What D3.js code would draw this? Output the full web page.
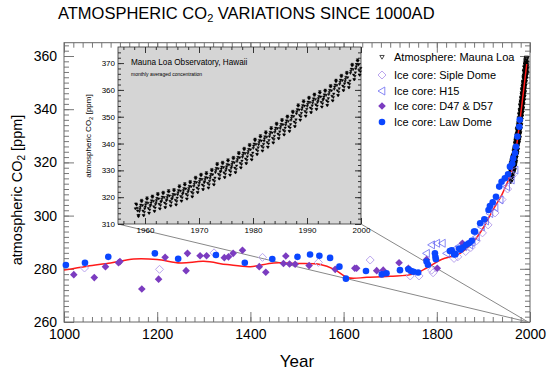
<!DOCTYPE html>
<html>
<head>
<meta charset="utf-8">
<script src="https://cdn.jsdelivr.net/npm/d3@7"></script>
<style>
  body { margin: 0; background: #fff; }
  svg text { font-family: "Liberation Sans", Arial, Helvetica, sans-serif; fill: #000; }
</style>
</head>
<body>
<svg id="chart" width="550" height="376"></svg>
<script>
// Ice core records, [year, ppm]
var lawDome = [
  [1004, 281.4], [1045, 282.3], [1095, 284.5], [1195, 285.8], [1245, 283.8], [1326, 285.2],
  [1388, 282.3], [1447, 283.7], [1501, 284.5], [1528, 285.4], [1548, 284.9], [1571, 284.1],
  [1591, 280.8], [1605, 276.3], [1648, 279.2], [1682, 277.9], [1692, 278.3], [1721, 279.5],
  [1739, 279.8], [1745, 279.2], [1750, 278.9], [1760, 278.6], [1778, 282.7], [1781, 281.5],
  [1796, 285.8], [1797, 284.5], [1798, 283.6], [1828, 286.7], [1832, 287.0], [1837, 285.4],
  [1840, 285.5], [1848, 287.6], [1851, 287.2], [1856, 288.0], [1863, 289.0], [1869, 289.6],
  [1875, 290.5], [1880, 294.0], [1882, 294.0], [1893, 297.1], [1902, 298.6], [1911, 302.1],
  [1914, 303.6], [1920, 305.0], [1927, 307.1], [1934, 310.9], [1939, 312.7], [1946, 314.0],
  [1953, 315.5], [1957, 318.4], [1962, 319.5], [1964, 321.5], [1968, 323.5], [1970, 325.9],
  [1973, 329.7], [1977, 333.4], [1978, 336.0]
];
var d47d57 = [
  [1021, 277.8], [1065, 276.7], [1089, 280.8], [1117, 282.3], [1120, 282.7], [1167, 272.4],
  [1203, 276.1], [1217, 284.3], [1262, 279.3], [1265, 285.8], [1292, 284.9], [1306, 284.9],
  [1344, 284.2], [1353, 284.5], [1363, 285.8], [1383, 287.0], [1419, 280.8], [1433, 278.7],
  [1471, 282.0], [1476, 284.8], [1484, 281.8], [1496, 281.7], [1526, 281.2], [1582, 279.8],
  [1624, 280.2], [1628, 280.2], [1671, 279.3], [1685, 279.5], [1719, 282.3], [1739, 280.2],
  [1778, 283.5], [1801, 280.2], [1855, 289.6]
];
var sipleDome = [
  [1044, 280.3], [1205, 279.8], [1322, 286.0], [1426, 284.3], [1546, 282.4], [1657, 283.3],
  [1743, 277.3], [1762, 277.3], [1789, 279.5], [1792, 278.5], [1837, 283.9], [1845, 284.5],
  [1862, 286.5], [1873, 288.0], [1885, 290.5], [1898, 293.5], [1910, 296.5], [1925, 301.0],
  [1940, 306.0], [1952, 310.0], [1962, 315.0]
];
var h15 = [
  [1778, 285.8], [1789, 289.0], [1800, 289.6], [1812, 289.6], [1821, 285.8], [1835, 287.0],
  [1848, 288.5], [1858, 288.3], [1871, 289.0], [1876, 290.0], [1885, 292.0], [1896, 295.8],
  [1905, 298.0], [1914, 300.8], [1925, 303.0], [1936, 305.9], [1950, 310.9], [1960, 313.4],
  [1968, 317.1]
];
// smoothed fit through all records
var fitCurve = [
  [1000, 279.5], [1050, 281.0], [1100, 282.2], [1150, 283.7], [1200, 283.5], [1250, 282.2],
  [1300, 282.8], [1350, 281.6], [1400, 280.8], [1450, 282.2], [1500, 282.0], [1550, 281.6],
  [1580, 279.8], [1610, 276.6], [1650, 276.8], [1700, 277.2], [1750, 278.0], [1780, 280.5],
  [1810, 283.5], [1850, 285.8], [1880, 290.5], [1900, 295.5], [1920, 302.0], [1940, 308.0],
  [1960, 316.5], [1970, 325.0], [1980, 338.0], [1993, 357.0]
];
// Mauna Loa monthly means: year, Jan..Dec
var maunaLoa = [
  [1958, null, null, 315.7, 317.5, 317.5, 317.1, 315.9, 314.9, 313.2, 312.7, 313.3, 314.7],
  [1959, 315.5, 316.3, 317.1, 318.4, 318.9, 318.4, 316.9, 314.9, 313.2, 313.1, 314.4, 315.7],
  [1960, 316.4, 317.2, 318.0, 319.3, 319.8, 319.3, 317.8, 315.8, 314.1, 314.0, 315.3, 316.6],
  [1961, 317.1, 317.9, 318.7, 320.0, 320.5, 320.0, 318.5, 316.5, 314.8, 314.7, 316.0, 317.3],
  [1962, 318.0, 318.8, 319.6, 320.9, 321.4, 320.9, 319.4, 317.4, 315.7, 315.6, 316.9, 318.2],
  [1963, 318.5, 319.3, 320.1, 321.4, 321.9, 321.4, 319.9, 317.9, 316.2, 316.1, 317.4, 318.7],
  [1964, 319.1, 319.9, 320.7, 322.0, 322.5, 322.0, 320.5, 318.5, 316.8, 316.7, 318.0, 319.3],
  [1965, 319.5, 320.3, 321.1, 322.4, 322.9, 322.4, 320.9, 318.9, 317.2, 317.1, 318.4, 319.7],
  [1966, 320.9, 321.7, 322.5, 323.8, 324.3, 323.8, 322.3, 320.3, 318.6, 318.5, 319.8, 321.1],
  [1967, 321.7, 322.5, 323.3, 324.6, 325.1, 324.6, 323.1, 321.1, 319.4, 319.3, 320.6, 321.9],
  [1968, 322.5, 323.3, 324.1, 325.4, 325.9, 325.4, 323.9, 321.9, 320.2, 320.1, 321.4, 322.7],
  [1969, 324.1, 324.9, 325.7, 327.0, 327.5, 327.0, 325.5, 323.5, 321.8, 321.7, 323.0, 324.3],
  [1970, 325.2, 326.0, 326.8, 328.1, 328.6, 328.1, 326.6, 324.6, 322.9, 322.8, 324.1, 325.4],
  [1971, 325.8, 326.6, 327.4, 328.7, 329.2, 328.7, 327.2, 325.2, 323.5, 323.4, 324.7, 326.0],
  [1972, 327.0, 327.8, 328.6, 329.9, 330.4, 329.9, 328.4, 326.4, 324.7, 324.6, 325.9, 327.2],
  [1973, 329.2, 330.0, 330.8, 332.1, 332.6, 332.1, 330.6, 328.6, 326.9, 326.8, 328.1, 329.4],
  [1974, 329.7, 330.5, 331.3, 332.6, 333.1, 332.6, 331.1, 329.1, 327.4, 327.3, 328.6, 329.9],
  [1975, 330.6, 331.4, 332.2, 333.5, 334.0, 333.5, 332.0, 330.0, 328.3, 328.2, 329.5, 330.8],
  [1976, 331.5, 332.3, 333.1, 334.4, 334.9, 334.4, 332.9, 330.9, 329.2, 329.1, 330.4, 331.7],
  [1977, 333.3, 334.1, 334.9, 336.2, 336.7, 336.2, 334.7, 332.7, 331.0, 330.9, 332.2, 333.5],
  [1978, 334.9, 335.7, 336.5, 337.8, 338.3, 337.8, 336.3, 334.3, 332.6, 332.5, 333.8, 335.1],
  [1979, 336.3, 337.1, 337.9, 339.2, 339.7, 339.2, 337.7, 335.7, 334.0, 333.9, 335.2, 336.5],
  [1980, 338.3, 339.1, 339.9, 341.2, 341.7, 341.2, 339.7, 337.7, 336.0, 335.9, 337.2, 338.5],
  [1981, 339.6, 340.4, 341.2, 342.5, 343.0, 342.5, 341.0, 339.0, 337.3, 337.2, 338.5, 339.8],
  [1982, 341.0, 341.8, 342.6, 343.9, 344.4, 343.9, 342.4, 340.4, 338.7, 338.6, 339.9, 341.2],
  [1983, 342.6, 343.4, 344.2, 345.5, 346.0, 345.5, 344.0, 342.0, 340.3, 340.2, 341.5, 342.8],
  [1984, 344.2, 345.0, 345.8, 347.1, 347.6, 347.1, 345.6, 343.6, 341.9, 341.8, 343.1, 344.4],
  [1985, 345.6, 346.4, 347.2, 348.5, 349.0, 348.5, 347.0, 345.0, 343.3, 343.2, 344.5, 345.8],
  [1986, 346.9, 347.7, 348.5, 349.8, 350.3, 349.8, 348.3, 346.3, 344.6, 344.5, 345.8, 347.1],
  [1987, 348.7, 349.5, 350.3, 351.6, 352.1, 351.6, 350.1, 348.1, 346.4, 346.3, 347.6, 348.9],
  [1988, 351.1, 351.9, 352.7, 354.0, 354.5, 354.0, 352.5, 350.5, 348.8, 348.7, 350.0, 351.3],
  [1989, 352.6, 353.4, 354.2, 355.5, 356.0, 355.5, 354.0, 352.0, 350.3, 350.2, 351.5, 352.8],
  [1990, 353.9, 354.7, 355.5, 356.8, 357.3, 356.8, 355.3, 353.3, 351.6, 351.5, 352.8, 354.1],
  [1991, 355.1, 355.9, 356.7, 358.0, 358.5, 358.0, 356.5, 354.5, 352.8, 352.7, 354.0, 355.3],
  [1992, 356.0, 356.8, 357.6, 358.9, 359.4, 358.9, 357.4, 355.4, 353.7, 353.6, 354.9, 356.2],
  [1993, 356.6, 357.4, 358.2, 359.5, 360.0, 359.5, 358.0, 356.0, 354.3, 354.2, 355.5, 356.8],
  [1994, 358.3, 359.1, 359.9, 361.2, 361.7, 361.2, 359.7, 357.7, 356.0, 355.9, 357.2, 358.5],
  [1995, 360.3, 361.1, 361.9, 363.2, 363.7, 363.2, 361.7, 359.7, 358.0, 357.9, 359.2, 360.5],
  [1996, 362.1, 362.9, 363.7, 365.0, 365.5, 365.0, 363.5, 361.5, 359.8, 359.7, 361.0, 362.3],
  [1997, 363.2, 364.0, 364.8, 366.1, 366.6, 366.1, 364.6, 362.6, 360.9, 360.8, 362.1, 363.4],
  [1998, 366.2, 367.0, 367.8, 369.1, 369.6, 369.1, 367.6, 365.6, 363.9, 363.8, 365.1, 366.4],
  [1999, 367.9, 368.7, 369.5, 370.8, 371.3, 370.8, 369.3, 367.3, 365.6, 365.5, 366.8, 368.1]
];
var mainLastYear = 1993;   // main panel shows Mauna Loa up to here

var xTicks = d3.range(1000, 2001, 200), xMinor = d3.range(1000, 2001, 20);
var yTicks = d3.range(260, 361, 20), yMinor = d3.range(260, 365, 2);
var insetXTicks = d3.range(1960, 2001, 10), insetXMinor = d3.range(1956, 2001, 2);
var insetYTicks = d3.range(310, 371, 10), insetYMinor = d3.range(310, 376, 2);

var legendItems = [
  {label: "Atmosphere: Mauna Loa", key: "ml"},
  {label: "Ice core: Siple Dome", key: "siple"},
  {label: "Ice core: H15", key: "h15"},
  {label: "Ice core: D47 & D57", key: "d47"},
  {label: "Ice core: Law Dome", key: "law"}
];

var colors = {law: "#0a46ff", d47: "#7b3cc0", siple: "#bba6ee", h15: "#6a6af2", ml: "#000", fit: "#ff1a1a"};

// flatten monthly rows to [decimal year, ppm]
var mlPoints = [];
maunaLoa.forEach(function(row) {
  for (var m = 1; m <= 12; m++) {
    if (row[m] != null) mlPoints.push([row[0] + (m - 0.5) / 12, row[m]]);
  }
});

function diamond(r) { return "M0," + (-r) + "L" + r + ",0L0," + r + "L" + (-r) + ",0Z"; }
function triDown(r) { return "M" + (-r) + "," + (-r * 0.7) + "L" + r + "," + (-r * 0.7) + "L0," + r + "Z"; }
function triLeft(r) { return "M" + (-r) + ",0L" + (r * 0.7) + "," + (-r) + "L" + (r * 0.7) + "," + r + "Z"; }
function circle(r) { return d3.symbol(d3.symbolCircle, Math.PI * r * r)(); }

var markers = {
  ml: {d: triDown(2.2), fill: "none", stroke: colors.ml, sw: 0.7},
  siple: {d: diamond(4), fill: "none", stroke: colors.siple, sw: 1},
  h15: {d: triLeft(4), fill: "none", stroke: colors.h15, sw: 0.8},
  d47: {d: diamond(3.8), fill: colors.d47, stroke: "none", sw: 0},
  law: {d: circle(3.3), fill: colors.law, stroke: "none", sw: 0}
};

var svg = d3.select("#chart");

var x = d3.scaleLinear().domain([1000, 2000]).range([64, 530]);
var y = d3.scaleLinear().domain([260, 365]).range([322, 42.7]);

var ix = d3.scaleLinear().domain([1955, 2000]).range([118, 361]);
var iy = d3.scaleLinear().domain([310, 376]).range([224, 47]);

function noDomain(g) { g.select(".domain").remove(); }

function frameTicks(g, sx, sy, xMaj, xMin, yMaj, yMin, bigLen, smallLen, color) {
  var x0 = sx.range()[0], x1 = sx.range()[1], y0 = sy.range()[0], y1 = sy.range()[1];
  g.append("g").attr("transform", "translate(0," + y0 + ")")
    .call(d3.axisBottom(sx).tickValues(xMin).tickSize(-smallLen).tickFormat("")).call(noDomain);
  g.append("g").attr("transform", "translate(0," + y1 + ")")
    .call(d3.axisTop(sx).tickValues(xMin).tickSize(-smallLen).tickFormat("")).call(noDomain);
  g.append("g").attr("transform", "translate(0," + y1 + ")")
    .call(d3.axisTop(sx).tickValues(xMaj).tickSize(-bigLen).tickFormat("")).call(noDomain);
  g.append("g").attr("transform", "translate(" + x0 + ",0)")
    .call(d3.axisLeft(sy).tickValues(yMin).tickSize(-smallLen).tickFormat("")).call(noDomain);
  g.append("g").attr("transform", "translate(" + x1 + ",0)")
    .call(d3.axisRight(sy).tickValues(yMin).tickSize(-smallLen).tickFormat("")).call(noDomain);
  g.append("g").attr("transform", "translate(" + x1 + ",0)")
    .call(d3.axisRight(sy).tickValues(yMaj).tickSize(-bigLen).tickFormat("")).call(noDomain);
  g.selectAll("line").attr("stroke", color);
}

// main frame and ticks
var mainAxes = svg.append("g");
frameTicks(mainAxes, x, y, xTicks, xMinor, yTicks, yMinor, 10, 5, "#777");

mainAxes.append("g").attr("transform", "translate(0,322)")
  .call(d3.axisBottom(x).tickValues(xTicks).tickSize(-10).tickPadding(7).tickFormat(d3.format("d")))
  .call(noDomain)
  .call(function(g) { g.selectAll("line").attr("stroke", "#777"); g.selectAll("text").attr("font-size", 14); });

mainAxes.append("g").attr("transform", "translate(64,0)")
  .call(d3.axisLeft(y).tickValues(yTicks).tickSize(-10).tickPadding(7))
  .call(noDomain)
  .call(function(g) { g.selectAll("line").attr("stroke", "#777"); g.selectAll("text").attr("font-size", 14); });

mainAxes.append("rect")
  .attr("x", x.range()[0]).attr("y", y.range()[1])
  .attr("width", x.range()[1] - x.range()[0]).attr("height", y.range()[0] - y.range()[1])
  .attr("fill", "none").attr("stroke", "#666").attr("stroke-width", 1);

// title
var title = svg.append("text").attr("x", 58).attr("y", 19).attr("font-size", 16.5);
title.append("tspan").text("ATMOSPHERIC CO");
title.append("tspan").attr("font-size", 11).attr("dy", 3).text("2");
title.append("tspan").attr("dy", -3).text(" VARIATIONS SINCE 1000AD");

svg.append("text").attr("x", 297).attr("y", 367).attr("text-anchor", "middle")
  .attr("font-size", 17).text("Year");

var yLab = svg.append("text").attr("transform", "translate(22,190) rotate(-90)")
  .attr("text-anchor", "middle").attr("font-size", 14.5);
yLab.append("tspan").text("atmospheric CO");
yLab.append("tspan").attr("font-size", 10).attr("dy", 3).text("2");
yLab.append("tspan").attr("dy", -3).text(" [ppm]");

// zoom lines from the inset down to the Mauna Loa period
var zoomEnd = [1996, 260];
[1955, 2000].forEach(function(yr) {
  svg.append("line")
    .attr("x1", ix(yr)).attr("y1", iy(310))
    .attr("x2", x(zoomEnd[0])).attr("y2", y(zoomEnd[1]))
    .attr("stroke", "#888").attr("stroke-width", 1);
});

function plotMarks(data, key, sx, sy, m) {
  var mk = m || markers[key];
  svg.append("g").selectAll("path").data(data).join("path")
    .attr("transform", function(d) { return "translate(" + sx(d[0]) + "," + sy(d[1]) + ")"; })
    .attr("d", mk.d)
    .attr("fill", mk.fill).attr("stroke", mk.stroke).attr("stroke-width", mk.sw);
}

plotMarks(mlPoints.filter(function(d) { return d[0] < mainLastYear; }), "ml", x, y);

svg.append("path")
  .attr("d", d3.line().x(function(d) { return x(d[0]); }).y(function(d) { return y(d[1]); })
    .curve(d3.curveCatmullRom)(fitCurve))
  .attr("fill", "none").attr("stroke", colors.fit).attr("stroke-width", 1.5);

plotMarks(sipleDome, "siple", x, y);
plotMarks(h15, "h15", x, y);
plotMarks(d47d57, "d47", x, y);
plotMarks(lawDome, "law", x, y);

// inset panel
var inset = svg.append("g");
inset.append("rect")
  .attr("x", ix.range()[0]).attr("y", iy.range()[1])
  .attr("width", ix.range()[1] - ix.range()[0]).attr("height", iy.range()[0] - iy.range()[1])
  .attr("fill", "#d5d5d5");
frameTicks(inset, ix, iy, insetXTicks, insetXMinor, insetYTicks, insetYMinor, 6, 3, "#333");
inset.append("g").attr("transform", "translate(0," + iy.range()[0] + ")")
  .call(d3.axisBottom(ix).tickValues(insetXTicks).tickSize(-6).tickPadding(3).tickFormat(d3.format("d")))
  .call(noDomain)
  .call(function(g) { g.selectAll("line").attr("stroke", "#333"); g.selectAll("text").attr("font-size", 8); });
inset.append("g").attr("transform", "translate(" + ix.range()[0] + ",0)")
  .call(d3.axisLeft(iy).tickValues(insetYTicks).tickSize(-6).tickPadding(3))
  .call(noDomain)
  .call(function(g) { g.selectAll("line").attr("stroke", "#333"); g.selectAll("text").attr("font-size", 8); });
inset.append("rect")
  .attr("x", ix.range()[0]).attr("y", iy.range()[1])
  .attr("width", ix.range()[1] - ix.range()[0]).attr("height", iy.range()[0] - iy.range()[1])
  .attr("fill", "none").attr("stroke", "#333").attr("stroke-width", 0.8);

inset.append("text").attr("x", 131).attr("y", 65).attr("font-size", 8.2)
  .text("Mauna Loa Observatory, Hawaii");
inset.append("text").attr("x", 131).attr("y", 75.5).attr("font-size", 5).attr("fill", "#333")
  .text("monthly averaged concentration");

var iyLab = inset.append("text").attr("transform", "translate(91,136) rotate(-90)")
  .attr("text-anchor", "middle").attr("font-size", 8);
iyLab.append("tspan").text("atmospheric CO");
iyLab.append("tspan").attr("font-size", 6).attr("dy", 2).text("2");
iyLab.append("tspan").attr("dy", -2).text(" [ppm]");

plotMarks(mlPoints, "ml", ix, iy, {d: triDown(1.3), fill: "#000", stroke: "#000", sw: 0.4});

// legend
var legend = svg.append("g").attr("transform", "translate(382,57)");
legendItems.forEach(function(item, i) {
  var mk = markers[item.key];
  var row = legend.append("g").attr("transform", "translate(0," + [0, 18, 34, 49, 65][i] + ")");
  row.append("path").attr("d", mk.d)
    .attr("fill", mk.fill).attr("stroke", mk.stroke).attr("stroke-width", mk.sw);
  row.append("text").attr("x", 12).attr("y", 4).attr("font-size", 11).text(item.label);
});
</script>
</body>
</html>
